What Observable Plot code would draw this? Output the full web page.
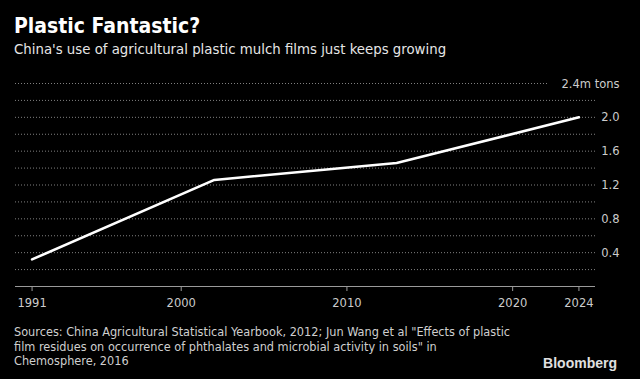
<!DOCTYPE html>
<html>
<head>
<meta charset="utf-8">
<script src="https://cdn.jsdelivr.net/npm/d3@7"></script>
<script src="https://cdn.jsdelivr.net/npm/@observablehq/plot@0.6"></script>
<style>
  html, body { margin: 0; padding: 0; background: #000; }
  body { width: 640px; height: 379px; overflow: hidden; position: relative; font-family: "DejaVu Sans Condensed", "DejaVu Sans", sans-serif; font-stretch: condensed; }
  #title { position: absolute; left: 14px; top: 14px; font-size: 21px; line-height: 24px; font-weight: bold; color: #fff; white-space: nowrap; }
  #subtitle { position: absolute; left: 14px; top: 40px; font-size: 14.8px; line-height: 18px; color: #e6e6e6; white-space: nowrap; }
  #chart { position: absolute; left: 0; top: 59px; }
  #source { position: absolute; left: 14px; top: 325px; font-size: 12.6px; line-height: 14.5px; color: #cfcfcf; white-space: nowrap; }
  #logo { position: absolute; right: 23px; top: 355px; font-family: "Liberation Sans", Arial, sans-serif; font-stretch: normal; font-weight: bold; font-size: 14px; line-height: 16px; color: #e0e0e0; }
</style>
</head>
<body>
<div id="title">Plastic Fantastic?</div>
<div id="subtitle">China's use of agricultural plastic mulch films just keeps growing</div>
<div id="chart"></div>
<div id="source">Sources: China Agricultural Statistical Yearbook, 2012; Jun Wang et al "Effects of plastic<br>film residues on occurrence of phthalates and microbial activity in soils" in<br>Chemosphere, 2016</div>
<div id="logo">Bloomberg</div>
<script>
const years = [1991, 2002, 2013, 2024];
const values = [0.32, 1.26, 1.46, 2.0];
const xTicks = [1991, 2000, 2010, 2020, 2024];
const yLabelTicks = [0.4, 0.8, 1.2, 1.6, 2.0, 2.4];
const gridValues = [0.2, 0.4, 0.6, 0.8, 1.0, 1.2, 1.4, 1.6, 1.8, 2.0, 2.2];
const topGrid = [2.4];

const data = years.map((year, i) => ({year, value: values[i]}));

const chart = Plot.plot({
  width: 640,
  height: 260,
  marginTop: 24,
  marginBottom: 33,
  marginLeft: 15,
  marginRight: 45,
  style: { background: "transparent", color: "#cccccc", fontFamily: "'DejaVu Sans Condensed', 'DejaVu Sans', sans-serif", fontSize: "12.8px" },
  x: { domain: [1990, 2025] },
  y: { domain: [0, 2.4] },
  marks: [
    Plot.ruleY(gridValues, { stroke: "#808080", strokeDasharray: "1,2" }),
    Plot.ruleY(topGrid, { stroke: "#808080", strokeDasharray: "1,2", insetRight: 48 }),
    Plot.ruleY([0], { stroke: "#9a9a9a", strokeWidth: 1 }),
    Plot.axisX({ ticks: xTicks, tickFormat: d => String(d), tickSize: 5, tickPadding: 6, label: null, stroke: "#9a9a9a" }),
    Plot.axisY({ anchor: "right", ticks: yLabelTicks, tickSize: 0, tickPadding: 24, textAnchor: "end", label: null,
      tickFormat: d => d === 2.4 ? "2.4m tons" : d.toFixed(1) }),
    Plot.line(data, { x: "year", y: "value", stroke: "#ffffff", strokeWidth: 2.6 })
  ]
});
document.getElementById("chart").appendChild(chart);
</script>
</body>
</html>
